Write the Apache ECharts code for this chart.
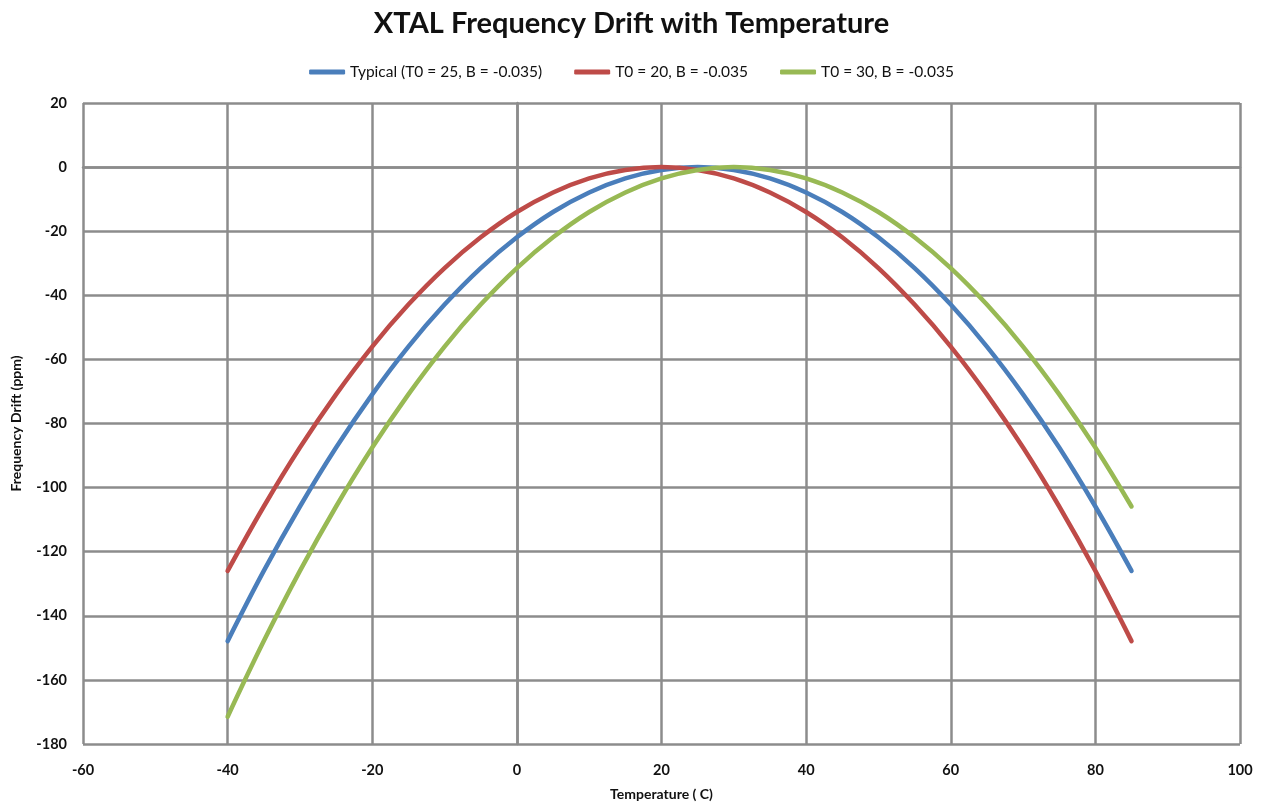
<!DOCTYPE html>
<html>
<head>
<meta charset="utf-8">
<script src="https://cdn.jsdelivr.net/npm/echarts@6/dist/echarts.min.js"></script>
<style>
    html, body {margin: 0; padding: 0; background: #fff;}
    #chart {width: 1263px; height: 803px;}
</style>
</head>
<body>
<div id="chart"></div>
<script>
// temperatures (C)
const temps = [-40, -35, -30, -25, -20, -15, -10, -5, 0, 5, 10, 15, 20, 25, 30, 35, 40, 45, 50, 55, 60, 65, 70, 75, 80, 85];
// frequency drift (ppm)
const typical = [-147.9, -126.0, -105.9, -87.5, -70.9, -56.0, -42.9, -31.5, -21.9, -14.0, -7.9, -3.5, -0.9, 0, -0.9, -3.5, -7.9, -14.0, -21.9, -31.5, -42.9, -56.0, -70.9, -87.5, -105.9, -126.0];
const t0_20 = [-126.0, -105.9, -87.5, -70.9, -56.0, -42.9, -31.5, -21.9, -14.0, -7.9, -3.5, -0.9, 0, -0.9, -3.5, -7.9, -14.0, -21.9, -31.5, -42.9, -56.0, -70.9, -87.5, -105.9, -126.0, -147.9];
const t0_30 = [-171.5, -147.9, -126.0, -105.9, -87.5, -70.9, -56.0, -42.9, -31.5, -21.9, -14.0, -7.9, -3.5, -0.9, 0, -0.9, -3.5, -7.9, -14.0, -21.9, -31.5, -42.9, -56.0, -70.9, -87.5, -105.9];
const seriesNames = ['Typical (T0 = 25, B = -0.035)', 'T0 = 20, B = -0.035', 'T0 = 30, B = -0.035'];
const colors = ['#4a7ebb', '#be4b48', '#98b954'];

const chart = echarts.init(document.getElementById('chart'));
const font = 'Lato, "Open Sans", sans-serif';
const gridLine = {show: true, lineStyle: {color: '#8c8c8c', width: 2.5}};

const toPairs = vals => temps.map((t, i) => [t, vals[i]]);

const option = {
    animation: false,
    title: {
        text: 'XTAL Frequency Drift with Temperature',
        left: 'center',
        top: 4,
        textStyle: {fontFamily: font, fontSize: 29, fontWeight: 'bold', color: '#111'}
    },
    legend: {
        top: 59,
        left: 'center',
        itemWidth: 36,
        itemHeight: 5,
        itemGap: 32,
        icon: 'roundRect',
        textStyle: {fontFamily: font, fontSize: 15.5, color: '#111'},
        data: seriesNames
    },
    grid: {left: 83, right: 23, top: 103, bottom: 59, outerBoundsMode: 'none'},
    xAxis: {
        type: 'value',
        min: -60, max: 100, interval: 20,
        name: 'Temperature ( C)',
        nameLocation: 'middle',
        nameGap: 43,
        nameTextStyle: {fontFamily: font, fontSize: 14, fontWeight: 'bold', color: '#111'},
        axisLine: {show: true, lineStyle: {color: '#8c8c8c', width: 2.5}},
        axisTick: {show: false},
        axisLabel: {fontFamily: font, fontSize: 14.5, fontWeight: 'bold', color: '#111', margin: 19},
        splitLine: gridLine
    },
    yAxis: {
        type: 'value',
        min: -180, max: 20, interval: 20,
        name: 'Frequency Drift (ppm)',
        nameLocation: 'middle',
        nameGap: 60,
        nameTextStyle: {fontFamily: font, fontSize: 14, fontWeight: 'bold', color: '#111'},
        axisLine: {show: true, lineStyle: {color: '#8c8c8c', width: 2.5}},
        axisTick: {show: false},
        axisLabel: {fontFamily: font, fontSize: 14.5, fontWeight: 'bold', color: '#111', margin: 16},
        splitLine: gridLine
    },
    series: [typical, t0_20, t0_30].map((vals, i) => ({
        type: 'line',
        name: seriesNames[i],
        data: toPairs(vals),
        smooth: 0.4,
        showSymbol: false,
        lineStyle: {width: 4.5, color: colors[i], cap: 'round'},
        itemStyle: {color: colors[i]}
    }))
};
chart.setOption(option);
</script>
</body>
</html>
